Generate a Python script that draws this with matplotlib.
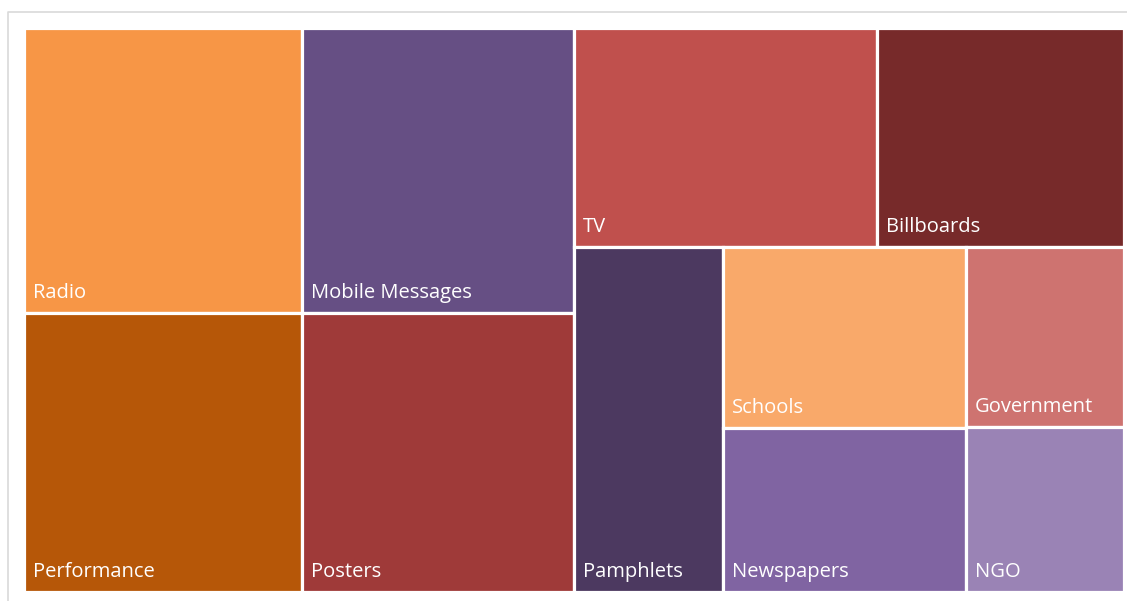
import matplotlib.pyplot as plt
from matplotlib.patches import Rectangle
from matplotlib.lines import Line2D

# treemap data (sorted as laid out)
labels = ["Radio", "Performance", "Mobile Messages", "Posters", "TV", "Billboards",
          "Pamphlets", "Schools", "Newspapers", "Government", "NGO"]
values = [128, 125, 125, 122, 107, 87, 83, 71, 64, 46, 42]
colors = ["#F79646", "#B65708", "#664F84", "#9F3A39", "#C0504D", "#772A2A",
          "#4C3960", "#F9A96A", "#8064A2", "#CE7370", "#9A83B5"]
# how many items go into each strip of the treemap
strip_sizes = [2, 2, 2, 1, 2, 2]

W_PX, H_PX = 1127, 601


def treemap(vals, strips, W, H):
    k = W * H / float(sum(vals))
    x0, y0, w, h = 0.0, 0.0, float(W), float(H)
    rects = []
    i = 0
    for si, n in enumerate(strips):
        items = vals[i:i + n]
        s = sum(items) * k
        last = si == len(strips) - 1
        column = (h >= w) if last else (w >= h)
        if column:
            sw = s / h
            yy = y0
            for v in items:
                hh = v * k / sw
                rects.append((x0, yy, sw, hh))
                yy += hh
            x0 += sw
            w -= sw
        else:
            sh = s / w
            xx = x0
            for v in items:
                ww = v * k / sh
                rects.append((xx, y0, ww, sh))
                xx += ww
            y0 += sh
            h -= sh
        i += n
    return rects


fig = plt.figure(figsize=(W_PX / 100, H_PX / 100), dpi=100)
left, top, right, bottom = 24, 28, 1124, 592
ax = fig.add_axes([left / W_PX, 1 - bottom / H_PX, (right - left) / W_PX, (bottom - top) / H_PX])
W, H = right - left, bottom - top

for (x, y, w, h), lab, c in zip(treemap(values, strip_sizes, W, H), labels, colors):
    ax.add_patch(Rectangle((x, y), w, h, facecolor=c, edgecolor="white", linewidth=2.3))
    ax.text(x + 9, y + h - 15, lab, color="white", fontsize=14.5,
            family="Open Sans", ha="left", va="baseline")

ax.set_xlim(0, W)
ax.set_ylim(H, 0)
ax.axis("off")

# chart frame (partly cropped)
fx, fy = 7.5 / W_PX, 1 - 11.5 / H_PX
fig.add_artist(Line2D([fx, fx, 1.01], [-0.01, fy, fy], color="#D9D9D9", lw=1.2))

fig.savefig("out.png", dpi=100)
